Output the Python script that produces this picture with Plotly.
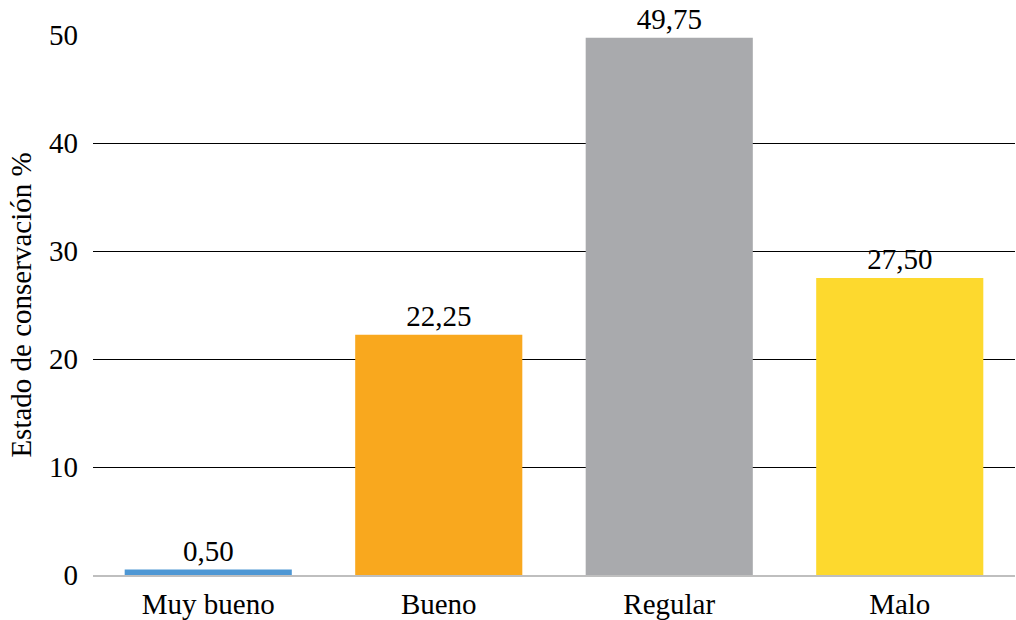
import plotly.graph_objects as go

categories = ["Muy bueno", "Bueno", "Regular", "Malo"]
values = [0.50, 22.25, 49.75, 27.50]
bar_colors = ["#4E97D4", "#F9A81E", "#A9AAAD", "#FDD92E"]
y_ticks = [0, 10, 20, 30, 40, 50]

font_family = "'Times New Roman', 'Liberation Serif', serif"

labels = [f"{v:.2f}".replace(".", ",") for v in values]

fig = go.Figure(
    go.Bar(
        x=categories,
        y=values,
        marker=dict(color=bar_colors, line=dict(width=0)),
        text=labels,
        textposition="outside",
        textfont=dict(family=font_family, size=29, color="#000000"),
        cliponaxis=False,
        width=0.725,
    )
)

fig.update_layout(
    width=1016,
    height=620,
    margin=dict(l=93, r=1, t=35, b=45),
    paper_bgcolor="white",
    plot_bgcolor="white",
    font=dict(family=font_family, size=29, color="#000000"),
    showlegend=False,
)

fig.update_yaxes(
    range=[0, 50],
    tickvals=y_ticks,
    showgrid=True,
    gridcolor="#000000",
    gridwidth=1.4,
    zeroline=False,
    showline=False,
    ticks="",
    ticklabelstandoff=14,
    title=dict(text="Estado de conservación %", standoff=8,
               font=dict(family=font_family, size=29)),
)

fig.update_xaxes(
    showline=True,
    linecolor="#BFBFBF",
    linewidth=1.5,
    ticks="",
    ticklabelstandoff=2,
    showgrid=False,
)

fig.write_html("out.html")
